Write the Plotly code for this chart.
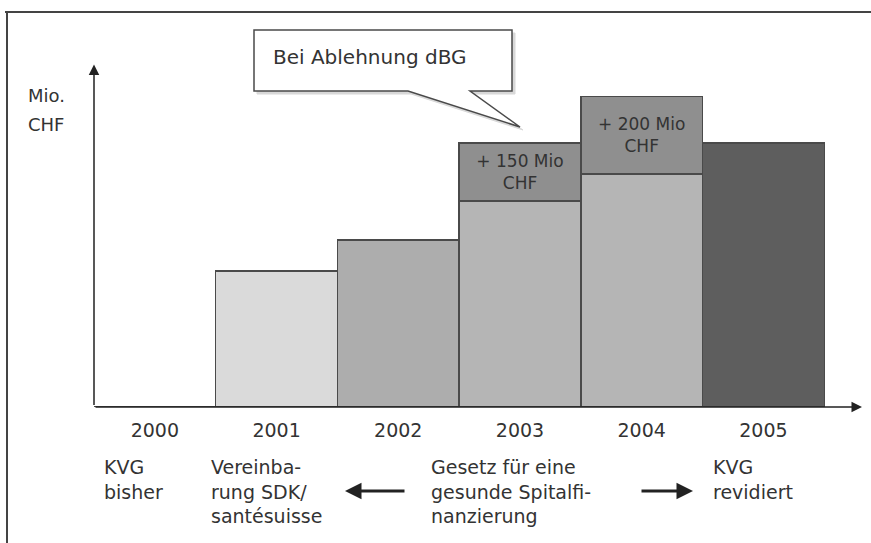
import plotly.graph_objects as go

# ---- data ----
years = ["2000", "2001", "2002", "2003", "2004", "2005"]
base_values = [0, 350, 430, 530, 600, 680]          # Mio. CHF (schematic)
extra_values = [None, None, None, 150, 200, None]    # additional amount
extra_labels = ["", "", "", "+ 150 Mio<br>CHF", "+ 200 Mio<br>CHF", ""]
base_colors = ["#ffffff", "#dadada", "#adadad", "#b5b5b5", "#b5b5b5", "#5e5e5e"]
extra_color = "#8f8f8f"
phase_labels = ["KVG<br>bisher", "Vereinba-<br>rung SDK/<br>santésuisse",
                "Gesetz für eine<br>gesunde Spitalfi-<br>nanzierung", "KVG<br>revidiert"]
y_title_lines = ["Mio.", "CHF"]
callout_text = "Bei Ablehnung dBG"

# ---- geometry helpers (pixel -> paper) ----
W, H = 871, 543
L, R, T, B = 94, 9, 68, 136
PW, PH = W - L - R, H - T - B


def px(x):
    return (x - L) / PW


def py(y):
    return (H - B - y) / PH


FONT = "DejaVu Sans, Verdana, sans-serif"
TXT = "#333333"
EDGE = "#4a4a4a"

fig = go.Figure()
fig.add_trace(go.Bar(
    x=years, y=base_values,
    marker=dict(color=base_colors, line=dict(color=EDGE, width=1.5)),
    hoverinfo="skip", showlegend=False,
))
fig.add_trace(go.Bar(
    x=years, y=extra_values,
    marker=dict(color=extra_color, line=dict(color=EDGE, width=1.5)),
    text=extra_labels, textposition="inside", insidetextanchor="middle",
    textangle=0, constraintext="none",
    textfont=dict(family=FONT, size=17, color=TXT),
    hoverinfo="skip", showlegend=False,
))

annotations = []
# axes with arrows
annotations.append(dict(x=1, y=0, xref="paper", yref="paper", ax=-PW, ay=0,
                        showarrow=True, text="",
                        arrowhead=2, arrowsize=1.4, arrowwidth=1.5,
                        arrowcolor="#222222", standoff=0))
annotations.append(dict(x=0, y=1.01, xref="paper", yref="paper", ax=0, ay=PH + 3,
                        showarrow=True, text="",
                        arrowhead=2, arrowsize=1.4, arrowwidth=1.5,
                        arrowcolor="#222222", standoff=0))
# y title
for txt, yy in zip(y_title_lines, [95, 124]):
    annotations.append(dict(x=px(26), y=py(yy), xref="paper", yref="paper",
                            text=txt, showarrow=False, xanchor="left",
                            yanchor="middle",
                            font=dict(family=FONT, size=18, color=TXT)))
# phase labels under the timeline
for txt, xx in zip(phase_labels, [102, 209, 429, 711]):
    annotations.append(dict(x=px(xx), y=py(454), xref="paper", yref="paper",
                            text=txt, showarrow=False, xanchor="left",
                            yanchor="top", align="left",
                            font=dict(family=FONT, size=19, color=TXT)))
# direction arrows
annotations.append(dict(x=px(345), y=py(491), xref="paper", yref="paper",
                        ax=61, ay=0, showarrow=True, text="",
                        arrowhead=2, arrowsize=1.1, arrowwidth=3,
                        arrowcolor="#222222", standoff=0))
annotations.append(dict(x=px(693), y=py(491), xref="paper", yref="paper",
                        ax=-53, ay=0, showarrow=True, text="",
                        arrowhead=2, arrowsize=1.1, arrowwidth=3,
                        arrowcolor="#222222", standoff=0))
# callout text
annotations.append(dict(x=px(271), y=py(57), xref="paper", yref="paper",
                        text=callout_text, showarrow=False, xanchor="left",
                        yanchor="middle",
                        font=dict(family=FONT, size=20, color=TXT)))


def path(points):
    s = "M {} {}".format(px(points[0][0]), py(points[0][1]))
    for x, y in points[1:]:
        s += " L {} {}".format(px(x), py(y))
    return s + " Z"


callout = [(254, 30), (512, 30), (512, 91), (470, 91), (520, 127),
           (408, 91), (254, 91)]
shadow = [(x + 3, y + 3) for x, y in callout]
shapes = [
    dict(type="path", xref="paper", yref="paper", path=path(shadow),
         fillcolor="#d8d8d8", line=dict(color="#d8d8d8", width=1), layer="above"),
    dict(type="path", xref="paper", yref="paper", path=path(callout),
         fillcolor="#ffffff", line=dict(color=EDGE, width=1.5), layer="above"),
    # page frame
    dict(type="line", xref="paper", yref="paper", x0=px(5), x1=px(871),
         y0=py(12), y1=py(12), line=dict(color="#444444", width=2)),
    dict(type="line", xref="paper", yref="paper", x0=px(7), x1=px(7),
         y0=py(12), y1=py(543), line=dict(color="#444444", width=2)),
]

fig.update_layout(
    width=W, height=H,
    margin=dict(l=L, r=R, t=T, b=B),
    paper_bgcolor="white", plot_bgcolor="white",
    barmode="stack", bargap=0,
    font=dict(family=FONT, color=TXT),
    xaxis=dict(type="category", range=[-0.5, 5.81], showgrid=False,
               showline=False, zeroline=False, ticks="outside", ticklen=6,
               tickcolor="rgba(0,0,0,0)",
               tickfont=dict(family=FONT, size=19, color=TXT)),
    yaxis=dict(range=[0, 873], visible=False),
    annotations=annotations, shapes=shapes,
)

fig.write_html(
    "out.html",
    config={"displayModeBar": False, "staticPlot": True},
    post_script="document.body.style.margin='0px';"
                "document.body.style.overflow='hidden';",
)
